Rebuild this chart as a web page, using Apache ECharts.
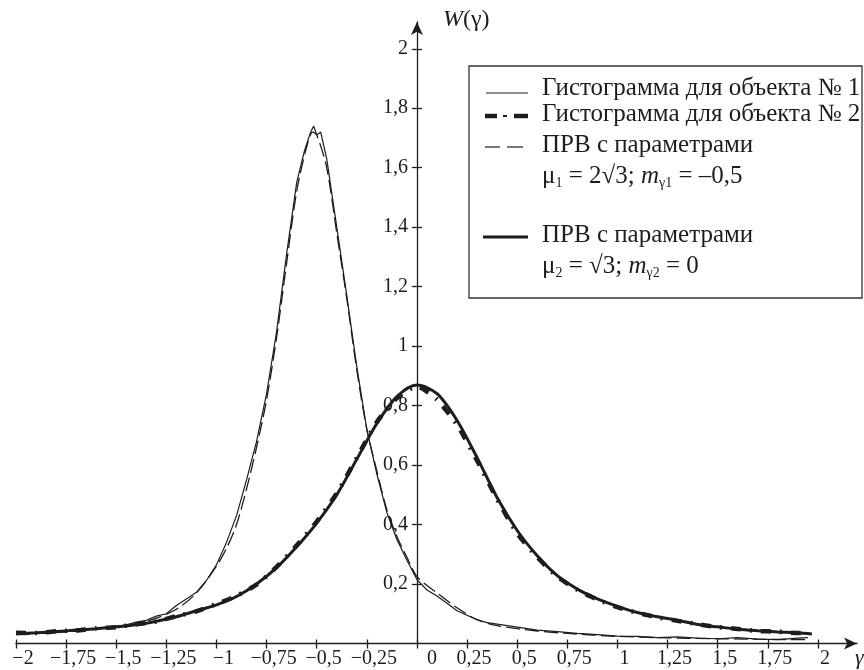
<!DOCTYPE html>
<html><head><meta charset="utf-8">
<script src="https://cdn.jsdelivr.net/npm/echarts@6/dist/echarts.min.js"></script>
<style>html,body{margin:0;padding:0;background:#fff}#c{width:864px;height:670px}</style>
</head><body><div id="c"></div>
<script>
// ---- tick labels ----
const xTickValues = [-2,-1.75,-1.5,-1.25,-1,-0.75,-0.5,-0.25,0,0.25,0.5,0.75,1,1.25,1.5,1.75,2];
const xTickLabels = ['−2','−1,75','−1,5','−1,25','−1','−0,75','−0,5','−0,25','0','0,25','0,5','0,75','1','1,25','1,5','1,75','2'];
const yTickValues = [0.2,0.4,0.6,0.8,1,1.2,1.4,1.6,1.8,2];
const yTickLabels = ['0,2','0,4','0,6','0,8','1','1,2','1,4','1,6','1,8','2'];

// ---- series: histogram for object 1 (thin solid) ----
const hist1X = [-2,-1.95,-1.9,-1.85,-1.8,-1.75,-1.7,-1.65,-1.6,-1.55,-1.5,-1.45,-1.4,-1.35,-1.3,-1.25,-1.2,-1.15,-1.1,-1.05,-1.0,-0.95,-0.9,-0.85,-0.8,-0.75,-0.7,-0.65,-0.6,-0.56,-0.53,-0.515,-0.50,-0.48,-0.45,-0.4,-0.35,-0.3,-0.25,-0.2,-0.15,-0.1,-0.05,0,0.05,0.1,0.15,0.2,0.25,0.3,0.35,0.4,0.5,0.6,0.7,0.8,0.9,1.0,1.1,1.2,1.3,1.4,1.5,1.6,1.7,1.8,1.9,1.95];
const hist1Y = [0.035,0.032,0.036,0.034,0.039,0.042,0.041,0.046,0.050,0.052,0.058,0.063,0.072,0.078,0.092,0.100,0.128,0.150,0.172,0.212,0.265,0.340,0.430,0.550,0.680,0.840,1.050,1.310,1.550,1.660,1.720,1.740,1.710,1.720,1.630,1.400,1.170,0.930,0.720,0.570,0.440,0.350,0.280,0.215,0.180,0.160,0.135,0.110,0.095,0.080,0.070,0.065,0.055,0.045,0.040,0.034,0.030,0.025,0.024,0.020,0.022,0.018,0.016,0.020,0.015,0.013,0.018,0.020];

// ---- series: histogram for object 2 (thick dash-dot) ----
const hist2X = [-2,-1.9,-1.8,-1.7,-1.6,-1.5,-1.4,-1.3,-1.2,-1.1,-1.0,-0.9,-0.8,-0.7,-0.6,-0.5,-0.4,-0.3,-0.2,-0.1,0,0.1,0.2,0.3,0.4,0.5,0.6,0.7,0.8,0.9,1.0,1.1,1.2,1.3,1.4,1.5,1.6,1.7,1.8,1.9,1.95];
const hist2Y = [0.036,0.035,0.041,0.044,0.051,0.055,0.065,0.074,0.092,0.108,0.133,0.160,0.198,0.258,0.330,0.410,0.505,0.625,0.745,0.825,0.865,0.820,0.735,0.615,0.485,0.370,0.290,0.225,0.180,0.148,0.122,0.103,0.088,0.076,0.065,0.055,0.049,0.042,0.040,0.035,0.037];

// ---- series: PRV mu1 = 2sqrt3, m = -0.5 (thin dashed) ----
const prv1X = [-2,-1.9,-1.8,-1.7,-1.6,-1.5,-1.4,-1.3,-1.2,-1.1,-1.0,-0.95,-0.9,-0.85,-0.8,-0.75,-0.7,-0.65,-0.6,-0.55,-0.52,-0.5,-0.45,-0.4,-0.35,-0.3,-0.25,-0.2,-0.15,-0.1,-0.05,0,0.1,0.2,0.3,0.4,0.5,0.6,0.75,1.0,1.25,1.5,1.75,1.95];
const prv1Y = [0.030,0.033,0.037,0.042,0.048,0.056,0.067,0.085,0.115,0.170,0.260,0.320,0.400,0.520,0.660,0.820,1.030,1.280,1.520,1.670,1.720,1.710,1.600,1.380,1.160,0.920,0.720,0.580,0.450,0.360,0.290,0.225,0.170,0.120,0.080,0.060,0.050,0.042,0.034,0.024,0.019,0.016,0.014,0.013];

// ---- series: PRV mu2 = sqrt3, m = 0 (thick solid) ----
const prv2X = [-2,-1.9,-1.8,-1.7,-1.6,-1.5,-1.4,-1.3,-1.2,-1.1,-1.0,-0.9,-0.8,-0.7,-0.6,-0.5,-0.4,-0.3,-0.2,-0.1,0,0.1,0.2,0.3,0.4,0.5,0.6,0.7,0.8,0.9,1.0,1.1,1.2,1.3,1.4,1.5,1.6,1.7,1.8,1.9,1.97];
const prv2Y = [0.033,0.036,0.040,0.045,0.050,0.056,0.063,0.075,0.090,0.110,0.130,0.158,0.200,0.255,0.325,0.405,0.500,0.620,0.740,0.830,0.869,0.840,0.750,0.625,0.490,0.380,0.295,0.228,0.183,0.150,0.125,0.104,0.090,0.078,0.064,0.056,0.048,0.043,0.039,0.036,0.032];

const FONT = 'Liberation Serif';
const INK = '#1d1d1d';
const LEG = 25;
function pairs(xs, ys) { return xs.map((x, i) => [x, ys[i]]); }
function lookup(vals, labels, v) {
  for (let i = 0; i < vals.length; i++) if (Math.abs(vals[i] - v) < 1e-6) return labels[i];
  return '';
}
const txt = { fontFamily: FONT, fontSize: 20, color: INK };
const lineStyleAxis = { color: INK, width: 1.3 };
const X_MIN = -2, X_MAX = 2.195, Y_MIN = 0, Y_MAX = 2.09;

const chart = echarts.init(document.getElementById('c'), null, { renderer: 'canvas' });
function mathRich() {
  return {
    t: { fontFamily: FONT, fontSize: LEG, fill: INK, lineHeight: 28, verticalAlign: 'middle' },
    i: { fontFamily: FONT, fontSize: LEG, fontStyle: 'italic', fill: INK, lineHeight: 28, verticalAlign: 'middle' },
    s: { fontFamily: FONT, fontSize: 14, fill: INK, lineHeight: 14, verticalAlign: 'bottom' }
  };
}
const option = {
  animation: false,
  backgroundColor: '#fff',
  grid: [
    { left: 16, right: 7, top: 22, bottom: 26.5, outerBoundsMode: 'none' },
    { left: 417, right: 446, top: 22, bottom: 26.5, outerBoundsMode: 'none' }
  ],
  xAxis: [{
    type: 'value', min: X_MIN, max: X_MAX, gridIndex: 0,
    axisLine: { onZero: true, lineStyle: lineStyleAxis, symbol: ['none', 'arrow'], symbolSize: [9, 13] },
    axisTick: { customValues: xTickValues, length: 5, lineStyle: lineStyleAxis },
    axisLabel: {
      customValues: xTickValues, margin: 5,
      formatter: function (v) {
        const s = lookup(xTickValues, xTickLabels, v);
        return (Math.abs(v) < 1e-9 ? '{z|' : '{n|') + s + '}';
      },
      fontFamily: FONT, fontSize: 20, color: INK,
      rich: {
        n: Object.assign({ padding: [0, 0, 0, 14] }, txt),
        z: Object.assign({ padding: [0, 0, 0, 30] }, txt)
      }
    },
    splitLine: { show: false }
  }, {
    type: 'value', position: 'top', min: X_MIN, max: X_MAX, gridIndex: 0,
    axisLine: { show: false, onZero: true },
    axisTick: { customValues: xTickValues, length: 4, lineStyle: lineStyleAxis },
    axisLabel: { show: false },
    splitLine: { show: false }
  }, {
    type: 'value', gridIndex: 1, min: 0, max: 1, show: false
  }],
  yAxis: [{
    type: 'value', min: Y_MIN, max: Y_MAX, gridIndex: 0,
    axisLine: { onZero: true, lineStyle: lineStyleAxis, symbol: ['none', 'arrow'], symbolSize: [9, 13] },
    axisTick: { customValues: yTickValues, length: 5, lineStyle: lineStyleAxis },
    axisLabel: { show: false },
    splitLine: { show: false }
  }, {
    type: 'value', position: 'right', min: Y_MIN, max: Y_MAX, gridIndex: 0,
    axisLine: { show: false, onZero: true },
    axisTick: { customValues: yTickValues, length: 5, lineStyle: lineStyleAxis },
    axisLabel: { show: false },
    splitLine: { show: false }
  }, {
    type: 'value', position: 'left', min: Y_MIN, max: Y_MAX, gridIndex: 1,
    axisLine: { show: false, onZero: false },
    axisTick: { show: false },
    axisLabel: {
      customValues: yTickValues, margin: 9,
      formatter: function (v) { return lookup(yTickValues, yTickLabels, v); },
      fontFamily: FONT, fontSize: 20, color: INK,
      verticalAlign: 'middle', padding: [11, 0, 0, 0]
    },
    splitLine: { show: false }
  }],
  series: [
    { name: 'prv2', type: 'line', data: pairs(prv2X, prv2Y), symbol: 'none', smooth: 0.3,
      lineStyle: { color: INK, width: 3 }, z: 2 },
    { name: 'hist2', type: 'line', data: pairs(hist2X, hist2Y), symbol: 'none', smooth: 0.2,
      lineStyle: { color: INK, width: 4.5, type: [10, 9, 2, 9] }, z: 3 },
    { name: 'prv1', type: 'line', data: pairs(prv1X, prv1Y), symbol: 'none', smooth: 0.3,
      lineStyle: { color: INK, width: 1.3, type: [14, 5] }, z: 4 },
    { name: 'hist1', type: 'line', data: pairs(hist1X, hist1Y), symbol: 'none',
      lineStyle: { color: INK, width: 1.2 }, z: 5 }
  ],
  graphic: [
    { type: 'rect', shape: { x: 469, y: 66, width: 393, height: 232 },
      style: { fill: '#fff', stroke: '#333', lineWidth: 1.3 }, z: 10 },
    { type: 'line', shape: { x1: 486, y1: 93, x2: 528, y2: 93 }, style: { stroke: INK, lineWidth: 1.2 }, z: 11 },
    { type: 'line', shape: { x1: 485, y1: 116, x2: 497, y2: 116 }, style: { stroke: INK, lineWidth: 4.5 }, z: 11 },
    { type: 'line', shape: { x1: 503, y1: 116, x2: 507, y2: 116 }, style: { stroke: INK, lineWidth: 2 }, z: 11 },
    { type: 'line', shape: { x1: 514, y1: 116, x2: 528, y2: 116 }, style: { stroke: INK, lineWidth: 4.5 }, z: 11 },
    { type: 'line', shape: { x1: 485, y1: 147, x2: 500, y2: 147 }, style: { stroke: INK, lineWidth: 1.2 }, z: 11 },
    { type: 'line', shape: { x1: 507, y1: 147, x2: 523, y2: 147 }, style: { stroke: INK, lineWidth: 1.2 }, z: 11 },
    { type: 'line', shape: { x1: 483, y1: 237, x2: 528, y2: 237 }, style: { stroke: INK, lineWidth: 3.2 }, z: 11 },
    { type: 'text', x: 542, y: 88, z: 11, style: { text: 'Гистограмма для объекта № 1', fontFamily: FONT, fontSize: LEG, fill: INK, verticalAlign: 'middle' } },
    { type: 'text', x: 542, y: 114, z: 11, style: { text: 'Гистограмма для объекта № 2', fontFamily: FONT, fontSize: LEG, fill: INK, verticalAlign: 'middle' } },
    { type: 'text', x: 542, y: 145, z: 11, style: { text: 'ПРВ с параметрами', fontFamily: FONT, fontSize: LEG, fill: INK, verticalAlign: 'middle' } },
    { type: 'text', x: 542, y: 176, z: 11, style: {
        text: '{t|μ}{s|1}{t| = 2√3; }{i|m}{s|γ1}{t| = –0,5}', verticalAlign: 'middle', rich: mathRich() } },
    { type: 'text', x: 542, y: 235, z: 11, style: { text: 'ПРВ с параметрами', fontFamily: FONT, fontSize: LEG, fill: INK, verticalAlign: 'middle' } },
    { type: 'text', x: 542, y: 266, z: 11, style: {
        text: '{t|μ}{s|2}{t| = √3; }{i|m}{s|γ2}{t| = 0}', verticalAlign: 'middle', rich: mathRich() } },
    { type: 'text', x: 443, y: 20, z: 11, style: {
        text: '{i|W}{t|(γ)}', verticalAlign: 'middle',
        rich: {
          i: { fontFamily: FONT, fontSize: 24, fontStyle: 'italic', fill: INK },
          t: { fontFamily: FONT, fontSize: 24, fill: INK }
        } } },
    { type: 'text', x: 855, y: 658, z: 11, style: { text: 'γ', fontFamily: FONT, fontSize: 22, fontStyle: 'italic', fill: INK, verticalAlign: 'middle' } }
  ]
};
chart.setOption(option);
</script>
</body></html>
